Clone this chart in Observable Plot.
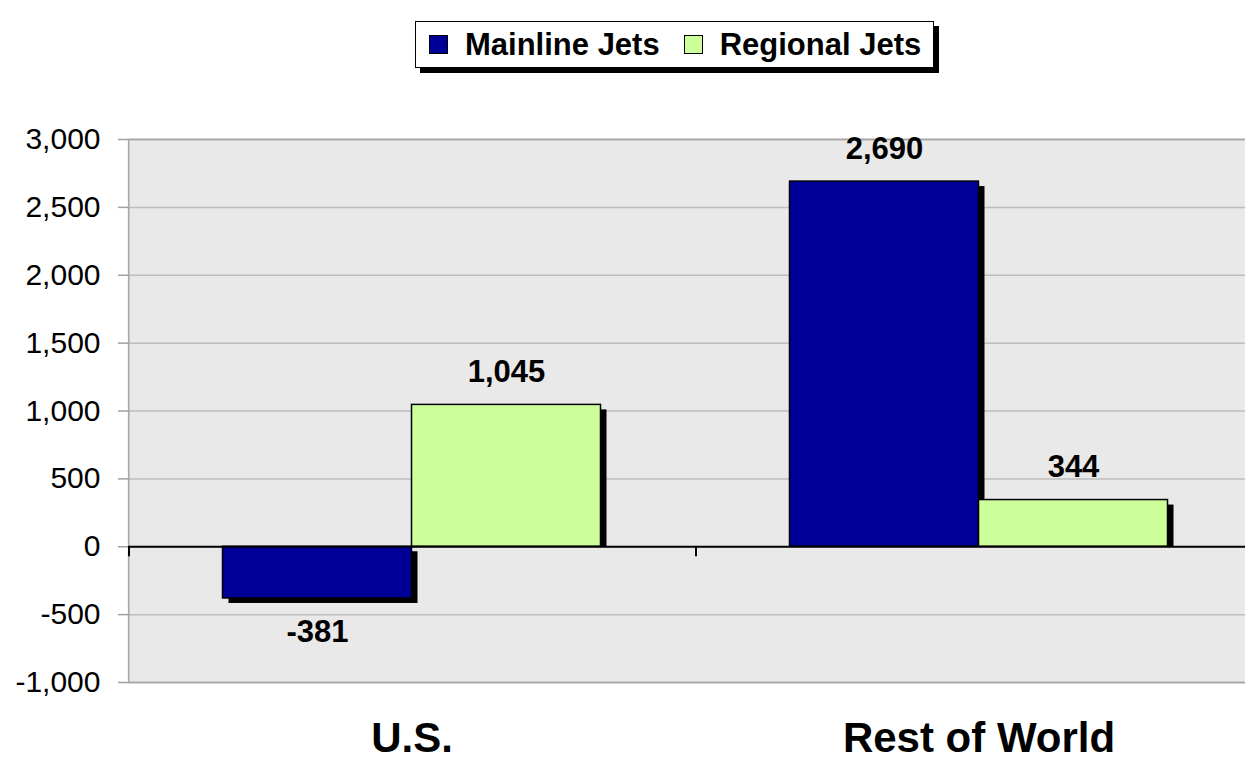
<!DOCTYPE html>
<html>
<head>
<meta charset="utf-8">
<script src="https://cdn.jsdelivr.net/npm/d3@7"></script>
<script src="https://cdn.jsdelivr.net/npm/@observablehq/plot@0.6"></script>
<style>
  html, body { margin: 0; padding: 0; background: #fff; overflow: hidden; }
  body { position: relative; width: 1245px; height: 759px; font-family: "Liberation Sans", Arial, sans-serif; }
  #legend {
    position: absolute; left: 415px; top: 21px; width: 519px; height: 47px;
    box-sizing: border-box; background: #fff; border: 1.5px solid #000;
    box-shadow: 5px 5px 0 #000;
    display: flex; align-items: center; padding-left: 13px;
    font-weight: bold; font-size: 31px; color: #000; z-index: 2;
  }
  #legend .sw { width: 19px; height: 19px; box-sizing: border-box; border: 1.5px solid #000; margin-right: 17px; }
  #legend .item { display: flex; align-items: center; margin-right: 24px; white-space: nowrap; }
  #chart { position: absolute; left: 0; top: 0; }
  #chart svg { max-width: none !important; }
</style>
</head>
<body>
<div id="legend"></div>
<div id="chart"></div>
<script>
// Net change in jet fleet, by region
const categories = ["U.S.", "Rest of World"];
const series = ["Mainline Jets", "Regional Jets"];
const mainline = [-381, 2690];
const regional = [1045, 344];
const yTicks = [-1000, -500, 0, 500, 1000, 1500, 2000, 2500, 3000];
const colors = ["#000099", "#ccff99"];

const rows = categories.flatMap((c, i) => [
  {category: c, series: series[0], value: mainline[i]},
  {category: c, series: series[1], value: regional[i]}
]);

const fmt = (v) => v.toLocaleString("en-US");

const width = 1262, height = 759;
const marginLeft = 128, marginRight = 0, marginTop = 139, marginBottom = 77;
const facetWidth = (width - marginLeft - marginRight) / categories.length;

// legend
const legend = document.getElementById("legend");
series.forEach((s, i) => {
  const item = document.createElement("div");
  item.className = "item";
  const sw = document.createElement("div");
  sw.className = "sw";
  sw.style.background = colors[i];
  const label = document.createElement("span");
  label.textContent = s;
  item.append(sw, label);
  legend.append(item);
});

const pos = rows.filter((d) => d.value >= 0);
const neg = rows.filter((d) => d.value < 0);

const chart = Plot.plot({
  width, height, marginLeft, marginRight, marginTop, marginBottom,
  style: {fontFamily: "'Liberation Sans', Arial, sans-serif", background: "transparent", overflow: "visible", maxWidth: "none"},
  fx: {domain: categories, paddingInner: 0, paddingOuter: 0, round: false, axis: null},
  x: {domain: series, paddingInner: 0, paddingOuter: 0.5, round: false, axis: null},
  y: {domain: [-1000, 3000], axis: null},
  color: {domain: series, range: colors},
  marks: [
    // plot area background and gridlines
    Plot.frame({fill: "#e9e9e9", stroke: "#e9e9e9", strokeWidth: 2}),
    Plot.gridY(yTicks, {stroke: "#bdbdbd", strokeOpacity: 1, strokeWidth: 1.5}),
    Plot.ruleY([yTicks[0], yTicks[yTicks.length - 1]], {stroke: "#a3a3a3", strokeWidth: 1.5}),
    // value axis line, first panel only
    Plot.rect([categories[0]], {fx: (d) => d, y1: yTicks[0], y2: yTicks[yTicks.length - 1], fill: "#a8a8a8", insetRight: facetWidth - 1.5}),
    // drop shadows
    Plot.barY(pos, {fx: "category", x: "series", y: "value", fill: "#000", dx: 6, dy: 5, insetBottom: 5}),
    Plot.barY(neg, {fx: "category", x: "series", y: "value", fill: "#000", dx: 6, dy: 5}),
    // bars
    Plot.barY(rows, {fx: "category", x: "series", y: "value", fill: "series", stroke: "#000", strokeWidth: 1.5}),
    // category axis at zero with tick marks at category boundaries
    Plot.ruleY([0], {stroke: "#000", strokeWidth: 2}),
    Plot.rect([0], {y1: 0, y2: 0, insetBottom: -10, insetRight: facetWidth - 2, fill: "#000"}),
    // value labels
    Plot.text(pos, {fx: "category", x: "series", y: "value", text: (d) => fmt(d.value), dy: -33, fontSize: 31, fontWeight: "bold", fill: "#000"}),
    Plot.text(neg, {fx: "category", x: "series", y: "value", text: (d) => fmt(d.value), dy: 34, fontSize: 31, fontWeight: "bold", fill: "#000"}),
    // axes
    Plot.axisY(yTicks, {tickFormat: fmt, tickSize: 10, tickPadding: 18, fontSize: 30, stroke: "#a0a0a0", fill: "#000", strokeWidth: 1.5, label: null}),
    Plot.axisFx({anchor: "bottom", tickSize: 0, tickPadding: 40, fontSize: 42, fontWeight: "bold", fill: "#000", label: null})
  ]
});
document.getElementById("chart").append(chart);
</script>
</body>
</html>
